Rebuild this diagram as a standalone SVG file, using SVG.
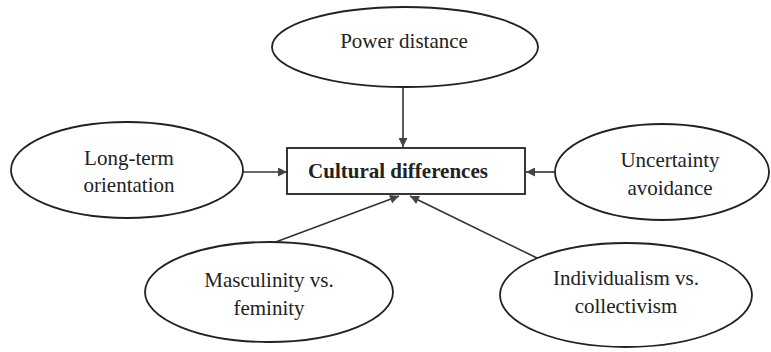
<svg xmlns="http://www.w3.org/2000/svg" width="771" height="352" viewBox="0 0 771 352" font-family="'Liberation Serif', 'Times New Roman', serif">
<defs>
<marker id="ah" viewBox="0 0 10 10" refX="10" refY="5" markerWidth="10" markerHeight="9" markerUnits="userSpaceOnUse" orient="auto">
<path d="M0,0 L10,5 L0,10 Z" fill="#444"/>
</marker>
<style>
.node-shape{fill:#fff;stroke:#222;stroke-width:1.8}
.label{font-family:'Liberation Serif','Times New Roman',serif;font-size:21px;fill:#222;text-anchor:middle}
.bold{font-weight:bold}
.conn{stroke:#333;stroke-width:1.6;fill:none;marker-end:url(#ah)}
</style>
</defs>
<rect width="771" height="352" fill="#fff"/>
<g id="connectors">
<line class="conn" x1="403" y1="87" x2="403" y2="147"/>
<line class="conn" x1="243" y1="172" x2="287" y2="172"/>
<line class="conn" x1="555" y1="172" x2="526" y2="172"/>
<line class="conn" x1="273" y1="243" x2="399" y2="196"/>
<line class="conn" x1="537" y1="258" x2="410" y2="196"/>
</g>
<g id="cultural-differences">
<rect class="node-shape" x="287" y="148" width="238" height="46"/>
<text class="label bold" x="398" y="178">Cultural differences</text>
</g>
<g id="power-distance">
<ellipse class="node-shape" cx="405" cy="47" rx="133" ry="40"/>
<text class="label" x="404" y="48">Power distance</text>
</g>
<g id="long-term-orientation">
<ellipse class="node-shape" cx="127" cy="170" rx="116" ry="48"/>
<text class="label" x="129" y="165">Long-term</text>
<text class="label" x="129" y="192">orientation</text>
</g>
<g id="uncertainty-avoidance">
<ellipse class="node-shape" cx="662" cy="172" rx="107" ry="48"/>
<text class="label" x="670" y="167">Uncertainty</text>
<text class="label" x="670" y="195">avoidance</text>
</g>
<g id="masculinity-femininity">
<ellipse class="node-shape" cx="269" cy="292" rx="124" ry="50"/>
<text class="label" x="269" y="287">Masculinity vs.</text>
<text class="label" x="269" y="315">feminity</text>
</g>
<g id="individualism-collectivism">
<ellipse class="node-shape" cx="626" cy="295" rx="126" ry="52"/>
<text class="label" x="626" y="285">Individualism vs.</text>
<text class="label" x="626" y="313">collectivism</text>
</g>
</svg>
